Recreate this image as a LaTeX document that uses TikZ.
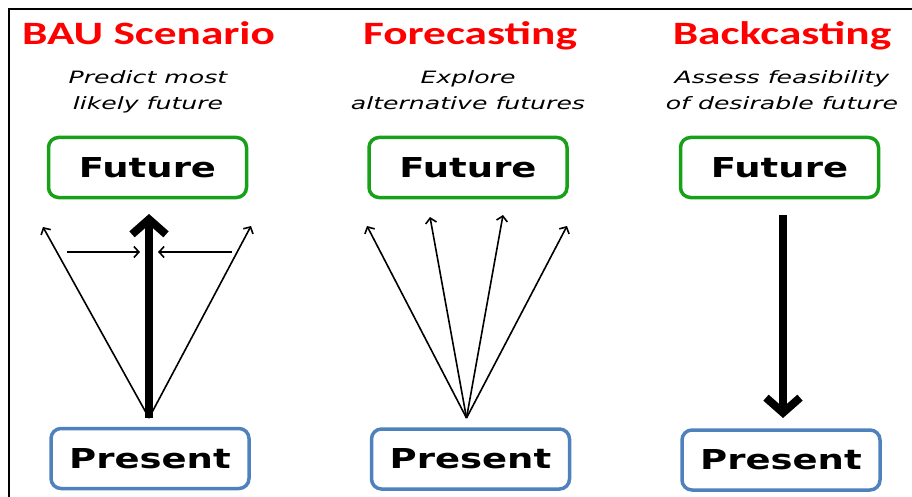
\documentclass[tikz,border=0pt]{standalone}
\usepackage{fontspec}
\setmainfont{Carlito}
\newfontfamily\headfont{Carlito}[FakeStretch=1.39]
\newfontfamily\boxfont{DejaVu Sans}[FakeStretch=1.35]
\newfontfamily\notefont{DejaVu Sans}[FakeStretch=1.48]
\usetikzlibrary{arrows.meta}

\definecolor{headred}{RGB}{255,0,0}
\definecolor{futgreen}{RGB}{25,160,25}
\definecolor{presblue}{RGB}{79,129,189}

\begin{document}
\begin{tikzpicture}[x=1pt, y=-1pt,
  heading/.style={anchor=base, text=headred, font=\headfont\bfseries\fontsize{32.6}{36}\selectfont},
  subnote/.style={anchor=base, align=center, font=\notefont\itshape\fontsize{17}{26.7}\selectfont},
  timebox/.style={draw, rounded corners=10pt, line width=3.5pt, minimum width=198pt,
    minimum height=60pt, inner sep=0pt, font=\boxfont\bfseries\fontsize{27.4}{30}\selectfont},
  futbox/.style={timebox, draw=futgreen},
  presbox/.style={timebox, draw=presblue},
  branch/.style={line width=1.6pt, -{Straight Barb[length=5pt,width=11pt]}},
  mainarrow/.style={line width=8pt, -{Straight Barb[length=15pt,width=34pt]}}]

% Canvas and frame
\useasboundingbox (0,0) rectangle (912,497);
\draw[line width=2pt] (8.5,497) -- (8.5,9.5) -- (912,9.5);

% Headings
\node[heading] (bau)  at (148.5,44.3) {BAU Scenario};
\node[heading] (fore) at (470,44.3) {Forecasting};
\node[heading] (back) at (782,44.3) {Backcasting};

% Sub notes (base anchor sits on the last line)
\node[subnote] (bauNote)  at (148,110) {Predict most\\likely future};
\node[subnote] (foreNote) at (468,110) {Explore\\alternative futures};
\node[subnote] (backNote) at (782,110) {Assess feasibility\\of desirable future};

% Future and present boxes
\node[futbox] (futA) at (147.5,167.5) {Future};
\node[futbox] (futB) at (468,167.5) {Future};
\node[futbox] (futC) at (779.5,167.5) {Future};
\node[presbox] (preA) at (150,458.5) {Present};
\node[presbox] (preB) at (470.5,459) {Present};
\node[presbox] (preC) at (781,460) {Present};

% BAU arrows
\coordinate (oA)   at (149,418);
\coordinate (tipA) at (149,214);
\coordinate (lA)   at (43,227);
\coordinate (rA)   at (251,226);
\coordinate (hl1)  at (67,252);
\coordinate (hl2)  at (140,252);
\coordinate (hr1)  at (232,252);
\coordinate (hr2)  at (158,252);
\draw[branch] (oA) -- (lA);
\draw[branch] (oA) -- (rA);
\draw[branch] (hl1) -- (hl2);
\draw[branch] (hr1) -- (hr2);
\draw[mainarrow] (oA) -- (tipA);

% Forecasting arrows
\coordinate (oB) at (466.5,418);
\foreach \tx/\ty [count=\i] in {367/226, 430/217, 503/215, 567/226} {
  \coordinate (tB\i) at (\tx,\ty);
  \draw[branch] (oB) -- (tB\i);
}

% Backcasting arrow
\coordinate (sC) at (783,215);
\coordinate (tC) at (783,418);
\draw[mainarrow] (sC) -- (tC);

\end{tikzpicture}
\end{document}
